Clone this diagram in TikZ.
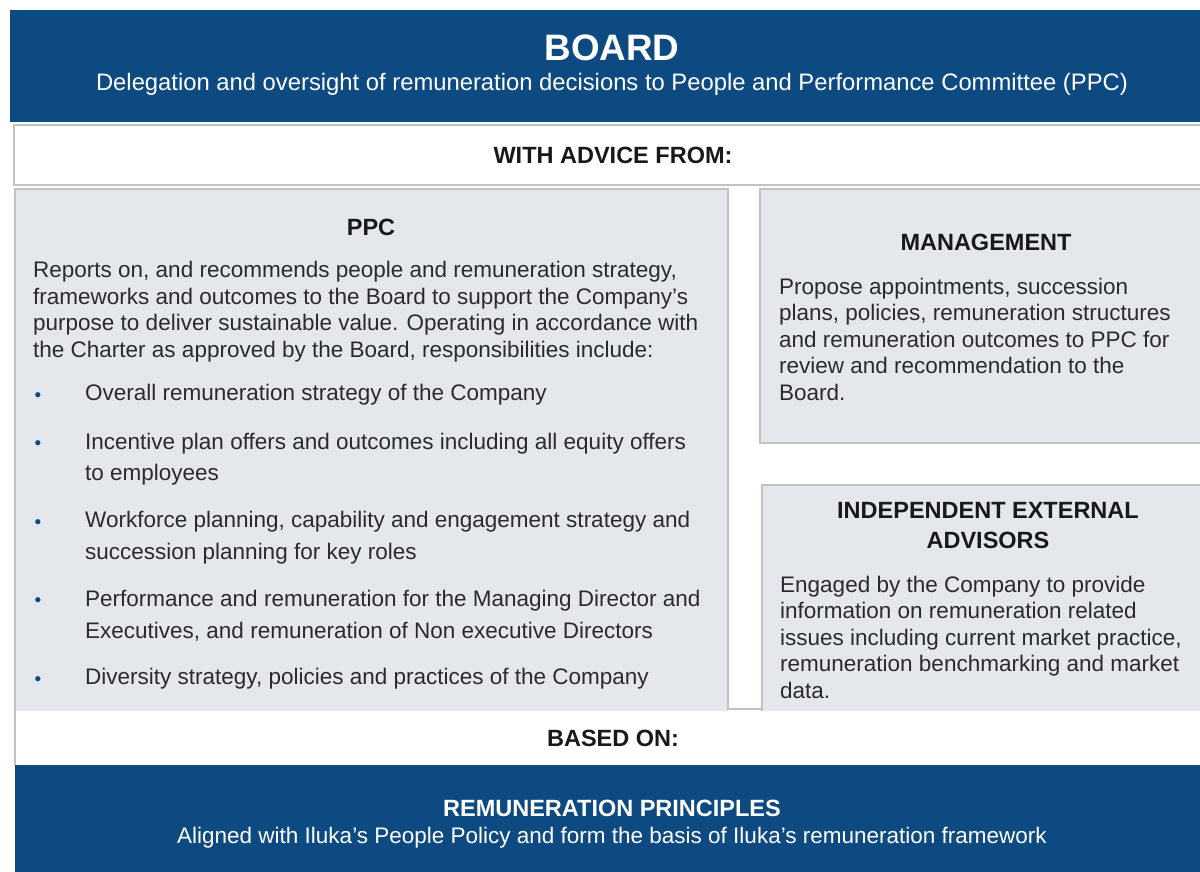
\documentclass[tikz,border=0pt]{standalone}
\usepackage{fontspec}
\setmainfont{Liberation Sans}
\definecolor{boardblue}{HTML}{0D4A82}
\definecolor{panelgrey}{HTML}{E4E7EC}
\definecolor{edgegrey}{HTML}{C2C2C2}
\definecolor{inkgrey}{HTML}{2B2B2B}
\tikzset{
 band/.style={fill=boardblue,draw=none},
 panel/.style={fill=panelgrey,draw=edgegrey,line width=1.2pt},
 edge/.style={draw=edgegrey,line width=1.2pt},
 title/.style={text=white,font=\bfseries\fontsize{36.8}{40}\selectfont},
 subtitle/.style={text=white,font=\fontsize{22.5}{26}\selectfont},
 heading/.style={text=black!90,font=\bfseries\fontsize{23.5}{30}\selectfont,align=center},
 body/.style={text=inkgrey,font=\fontsize{22.5}{26.5}\selectfont,align=left,anchor=west,inner sep=0pt},
 item/.style={body,font=\fontsize{22.5}{31.5}\selectfont},
 dot/.style={text=boardblue,font=\fontsize{19}{19}\selectfont,inner sep=0pt}
}
\begin{document}
\begin{tikzpicture}[x=1pt,y=-1pt]
 \fill[white](0,0) rectangle (1200,872);
 \useasboundingbox (0,0) rectangle (1200,872);
 % bands and panels
 \fill[band](10,10) rectangle (1205,122);
 \draw[edge,fill=white](14,125) rectangle (1205,185);
 \fill[panelgrey](15,189) rectangle (728,711);
 \draw[edge](15,765)--(15,189)--(728,189)--(728,709)--(762,709);
 \draw[panel](760,189) rectangle (1205,443);
 \fill[panelgrey](762,485) rectangle (1205,711);
 \draw[edge](762,711)--(762,485)--(1205,485);
 \fill[band](15,765) rectangle (1205,872);
 % board
 \node[title] (board) at (612,48) {BOARD};
 \node[subtitle,font=\fontsize{23.8}{26}\selectfont] (boardsub) at (612,84) {Delegation and oversight of remuneration decisions to People and Performance Committee (PPC)};
 \node[heading] (advice) at (613,155) {WITH ADVICE FROM:};
 % ppc
 \node[heading] (ppc) at (371,227) {PPC};
 \node[body] (ppctext) at (33,311.5) {Reports on, and recommends people and remuneration strategy,\\
 frameworks and outcomes to the Board to support the Company’s\\
 purpose to deliver sustainable value. Operating in accordance with\\
 the Charter as approved by the Board, responsibilities include:};
 \foreach \y in {397,445,524,602,681}
  \node[dot] at (38,\y) {\textbullet};
 \node[item] (itemA) at (85,395) {Overall remuneration strategy of the Company};
 \node[item] (itemB) at (85,459) {Incentive plan offers and outcomes including all equity offers\\to employees};
 \node[item] (itemC) at (85,537.5) {Workforce planning, capability and engagement strategy and\\succession planning for key roles};
 \node[item] (itemD) at (85,616) {Performance and remuneration for the Managing Director and\\Executives, and remuneration of Non executive Directors};
 \node[item] (itemE) at (85,679) {Diversity strategy, policies and practices of the Company};
 % management
 \node[heading] (mgmt) at (986,242) {MANAGEMENT};
 \node[body] (mgmttext) at (779,339) {Propose appointments, succession\\
 plans, policies, remuneration structures\\
 and remuneration outcomes to PPC for\\
 review and recommendation to the\\
 Board.};
 % advisors
 \node[heading] (advisors) at (988,526) {INDEPENDENT EXTERNAL\\ADVISORS};
 \node[body] (advtext) at (780,637) {Engaged by the Company to provide\\
 information on remuneration related\\
 issues including current market practice,\\
 remuneration benchmarking and market\\
 data.};
 % principles
 \node[heading] (based) at (613,738) {BASED ON:};
 \node[heading,text=white] (principles) at (612,808) {REMUNERATION PRINCIPLES};
 \node[subtitle] (principlessub) at (612,838) {Aligned with Iluka’s People Policy and form the basis of Iluka’s remuneration framework};
\end{tikzpicture}
\end{document}
